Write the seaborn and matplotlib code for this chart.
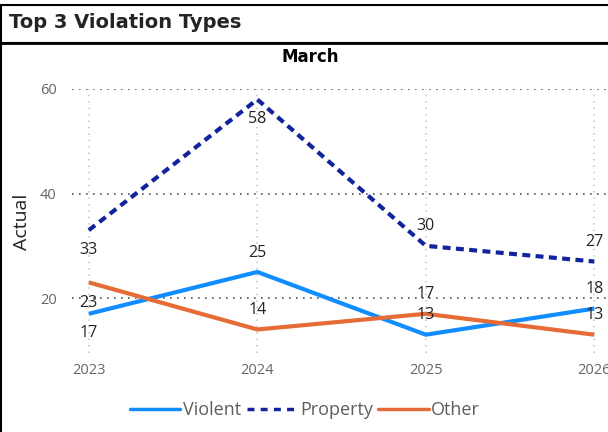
import matplotlib
matplotlib.use("Agg")
import matplotlib.pyplot as plt
import seaborn as sns
import pandas as pd
from matplotlib.patches import Rectangle
from matplotlib.lines import Line2D

years = [2023, 2024, 2025, 2026]
violent = [17, 25, 13, 18]
property_ = [33, 58, 30, 27]
other = [23, 14, 17, 13]
series_names = ["Violent", "Property", "Other"]
title = "Top 3 Violation Types"
subtitle = "March"
ylabel = "Actual"
yticks = [20, 40, 60]

colors = {"Violent": "#118DFF", "Property": "#12239E", "Other": "#E66C37"}
# label offsets in points (dy) per series, per year
offsets = {
    "Violent": [-14, 14, 14, 14],
    "Property": [-14, -14, 14, 14],
    "Other": [-15, 14, 14, 14],
}

df = pd.DataFrame({
    "Year": years * 3,
    "Value": violent + property_ + other,
    "Type": ["Violent"] * 4 + ["Property"] * 4 + ["Other"] * 4,
})

sns.set_theme(style="white")
plt.rcParams["font.family"] = ["Open Sans", "DejaVu Sans"]

fig = plt.figure(figsize=(6.08, 4.32), dpi=100)
ax = fig.add_axes([72 / 608, 1 - 353 / 432, (628 - 72) / 608, (353 - 89) / 432])

sns.lineplot(
    data=df, x="Year", y="Value", hue="Type", style="Type",
    hue_order=series_names, style_order=series_names,
    palette=colors,
    dashes={"Violent": "", "Property": (1.9, 1.3), "Other": ""},
    linewidth=3, ax=ax, legend=False,
)
for ln in ax.lines:
    ln.set_dash_capstyle("butt")
    ln.set_solid_capstyle("butt")

vals = {"Violent": violent, "Property": property_, "Other": other}
for name in series_names:
    for x, y, dy in zip(years, vals[name], offsets[name]):
        ax.annotate(str(y), (x, y), xytext=(0, dy), textcoords="offset points",
                    ha="center", va="center", fontsize=11.5, color="#252423")

ax.set_xlim(2022.9, 2026.2)
ax.set_ylim(9.5, 60)
ax.set_xticks(years)
ax.set_xticklabels([str(y) for y in years])
ax.set_yticks(yticks)
ax.tick_params(axis="both", length=0, labelsize=10.5, labelcolor="#666666")
ax.tick_params(axis="y", pad=11)
ax.tick_params(axis="x", pad=7)
ax.grid(False)
ax.yaxis.grid(True, color="#555555", linestyle=(0, (1, 3.2)), linewidth=1.2)
ax.xaxis.grid(True, color="#c4c4c4", linestyle=(0, (1, 3.2)), linewidth=1.1)
ax.set_axisbelow(True)
for s in ax.spines.values():
    s.set_visible(False)
ax.set_xlabel("")
ax.set_ylabel("")
fig.text(22 / 608, 1 - 222 / 432, ylabel, rotation=90, fontsize=14, color="#252423",
         ha="center", va="center")

# legend
handles = [
    Line2D([], [], color=colors["Violent"], lw=2.5),
    Line2D([], [], color=colors["Property"], lw=2.5, dashes=(2, 1.8), dash_capstyle="butt"),
    Line2D([], [], color=colors["Other"], lw=2.5),
]
fig.legend(handles, series_names, loc="center", bbox_to_anchor=(305 / 608, 1 - 410 / 432),
           ncol=3, frameon=False, fontsize=13, handlelength=2.8, handletextpad=0.15,
           columnspacing=0.3, labelcolor="#605E5C")

# title box
fig.patches.append(Rectangle((1 / 608, 1 - 43 / 432), 1.05, 38 / 432, transform=fig.transFigure,
                             fill=False, edgecolor="#000000", linewidth=1.5))
fig.lines.append(Line2D([1 / 608, 1 / 608], [0, 1 - 43 / 432], transform=fig.transFigure,
                        color="#000000", linewidth=1.5))
fig.lines.append(Line2D([0, 1], [1 - 43 / 432, 1 - 43 / 432], transform=fig.transFigure,
                        color="#000000", linewidth=2))
fig.text(9 / 608, 1 - 23 / 432, title, fontsize=14, fontweight="bold", color="#252423",
         ha="left", va="center", family=["DejaVu Sans"])
fig.text(310 / 608, 1 - 57 / 432, subtitle, fontsize=12, fontweight="bold", color="#000000",
         ha="center", va="center", family=["DejaVu Sans"])

fig.savefig("out.png", dpi=100)
